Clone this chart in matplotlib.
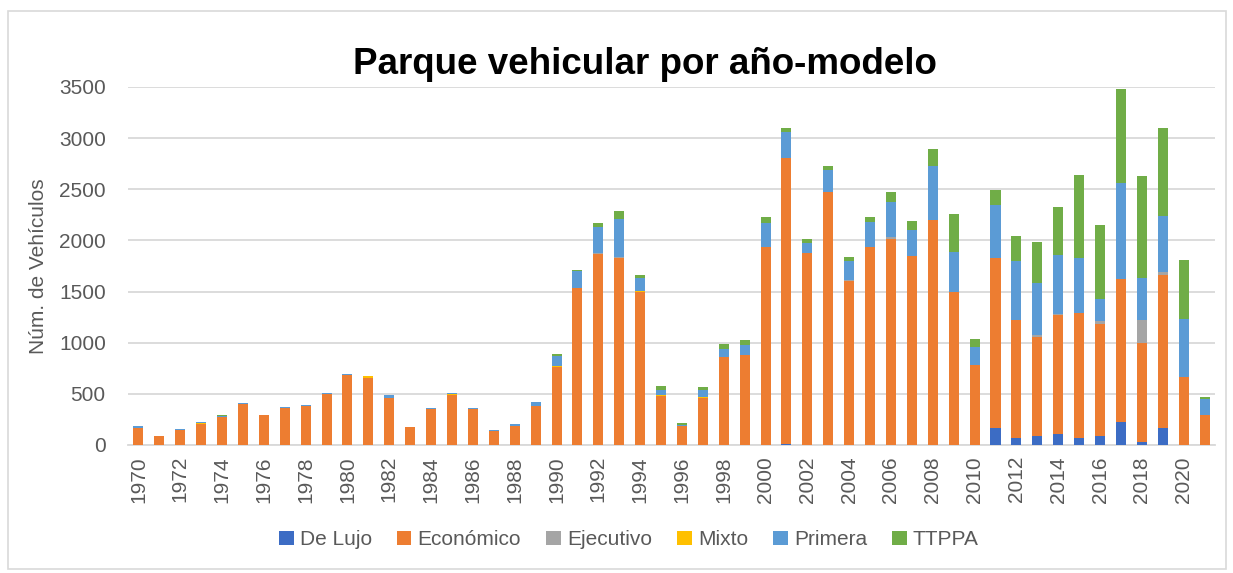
import numpy as np
import matplotlib
matplotlib.use('Agg')
import matplotlib.pyplot as plt
from matplotlib.patches import Rectangle

plt.rcParams['font.family'] = ['Liberation Sans', 'DejaVu Sans']

years = list(range(1970, 2022))

de_lujo = [0, 0, 0, 0, 0, 0, 0, 0, 0, 0,
           0, 0, 0, 0, 0, 0, 0, 0, 0, 0,
           0, 0, 0, 0, 0, 0, 0, 0, 0, 0,
           0, 10, 0, 0, 0, 0, 0, 0, 0, 0,
           0, 167, 72, 85, 105, 65, 92, 222, 33, 163,
           0, 0]

economico = [168, 89, 148, 207, 276, 398, 296, 365, 385, 503,
             681, 651, 464, 178, 355, 484, 355, 138, 188, 385,
             767, 1532, 1863, 1824, 1498, 478, 183, 458, 858, 877,
             1938, 2800, 1879, 2478, 1604, 1931, 2013, 1846, 2196, 1493,
             778, 1657, 1153, 971, 1166, 1229, 1091, 1399, 960, 1497,
             660, 297]

ejecutivo = [0, 0, 0, 0, 0, 0, 0, 0, 0, 0,
             0, 0, 0, 0, 0, 0, 0, 0, 0, 0,
             0, 0, 10, 10, 0, 0, 0, 0, 0, 0,
             0, 0, 0, 0, 10, 0, 20, 0, 0, 0,
             0, 8, 0, 16, 8, 0, 26, 0, 226, 30,
             0, 0]

mixto = [0, 0, 0, 8, 0, 0, 0, 0, 0, 0,
         0, 20, 0, 0, 0, 12, 0, 0, 0, 0,
         7, 7, 0, 0, 8, 7, 0, 7, 0, 0,
         0, 0, 0, 0, 0, 0, 0, 0, 0, 0,
         0, 0, 0, 0, 0, 0, 0, 0, 0, 0,
         0, 0]

primera = [20, 0, 10, 10, 8, 17, 0, 10, 10, 10,
           10, 0, 20, 0, 10, 17, 10, 10, 19, 39,
           100, 160, 262, 379, 128, 49, 17, 75, 78, 99,
           236, 246, 98, 207, 187, 249, 343, 255, 533, 393,
           176, 514, 572, 510, 577, 533, 216, 941, 412, 549,
           569, 157]

ttppa = [0, 0, 0, 0, 12, 0, 0, 0, 0, 0,
         0, 0, 0, 0, 0, 0, 0, 0, 0, 0,
         13, 13, 39, 79, 29, 39, 19, 23, 49, 49,
         59, 39, 40, 39, 39, 49, 98, 89, 166, 372,
         79, 147, 245, 402, 471, 813, 725, 922, 1000, 862,
         578, 20]

series = [('De Lujo', de_lujo, '#3c6cc4'),
          ('Económico', economico, '#ed7d31'),
          ('Ejecutivo', ejecutivo, '#a5a5a5'),
          ('Mixto', mixto, '#ffc000'),
          ('Primera', primera, '#5b9bd5'),
          ('TTPPA', ttppa, '#70ad47')]

fig = plt.figure(figsize=(12.33, 5.73), dpi=100)
ax = fig.add_axes([0.1038, 0.2234, 0.8816, 0.6248])

# chart area border
fig.patches.append(Rectangle((0.0065, 0.007), 0.988, 0.974, transform=fig.transFigure,
                             fill=False, edgecolor='#d9d9d9', linewidth=1.2))

x = np.arange(len(years))
bottom = np.zeros(len(years))
for name, vals, col in series:
    vals = np.array(vals, dtype=float)
    ax.bar(x, vals, width=0.48, bottom=bottom, color=col, label=name, zorder=3)
    bottom += vals

ax.set_xlim(-0.5, len(years) - 0.5)
ax.set_ylim(0, 3500)
ax.set_yticks(np.arange(0, 3501, 500))
ax.yaxis.grid(True, color='#d9d9d9', linewidth=1.3, zorder=0)
ax.set_axisbelow(True)

ax.set_xticks(x[::2])
ax.set_xticklabels([str(y) for y in years[::2]], rotation=90)
ax.tick_params(axis='both', length=0, labelsize=15, colors='#595959')
ax.tick_params(axis='x', pad=8)
ax.tick_params(axis='y', pad=16)

for s in ['top', 'right', 'left']:
    ax.spines[s].set_visible(False)
ax.spines['bottom'].set_color('#d9d9d9')
ax.spines['bottom'].set_linewidth(1.3)

ax.set_ylabel('Núm. de Vehículos', fontsize=15, color='#595959', labelpad=8)

fig.text(0.523, 0.888, 'Parque vehicular por año-modelo', ha='center', va='center',
         fontsize=26.5, fontweight='bold', color='black')

fig.legend(loc='center', bbox_to_anchor=(0.51, 0.058), ncol=6, frameon=False,
           fontsize=15, handlelength=0.7, handleheight=0.7, handletextpad=0.3,
           columnspacing=1.2, labelcolor='#595959')

plt.savefig('out.png', dpi=100)
plt.close()
